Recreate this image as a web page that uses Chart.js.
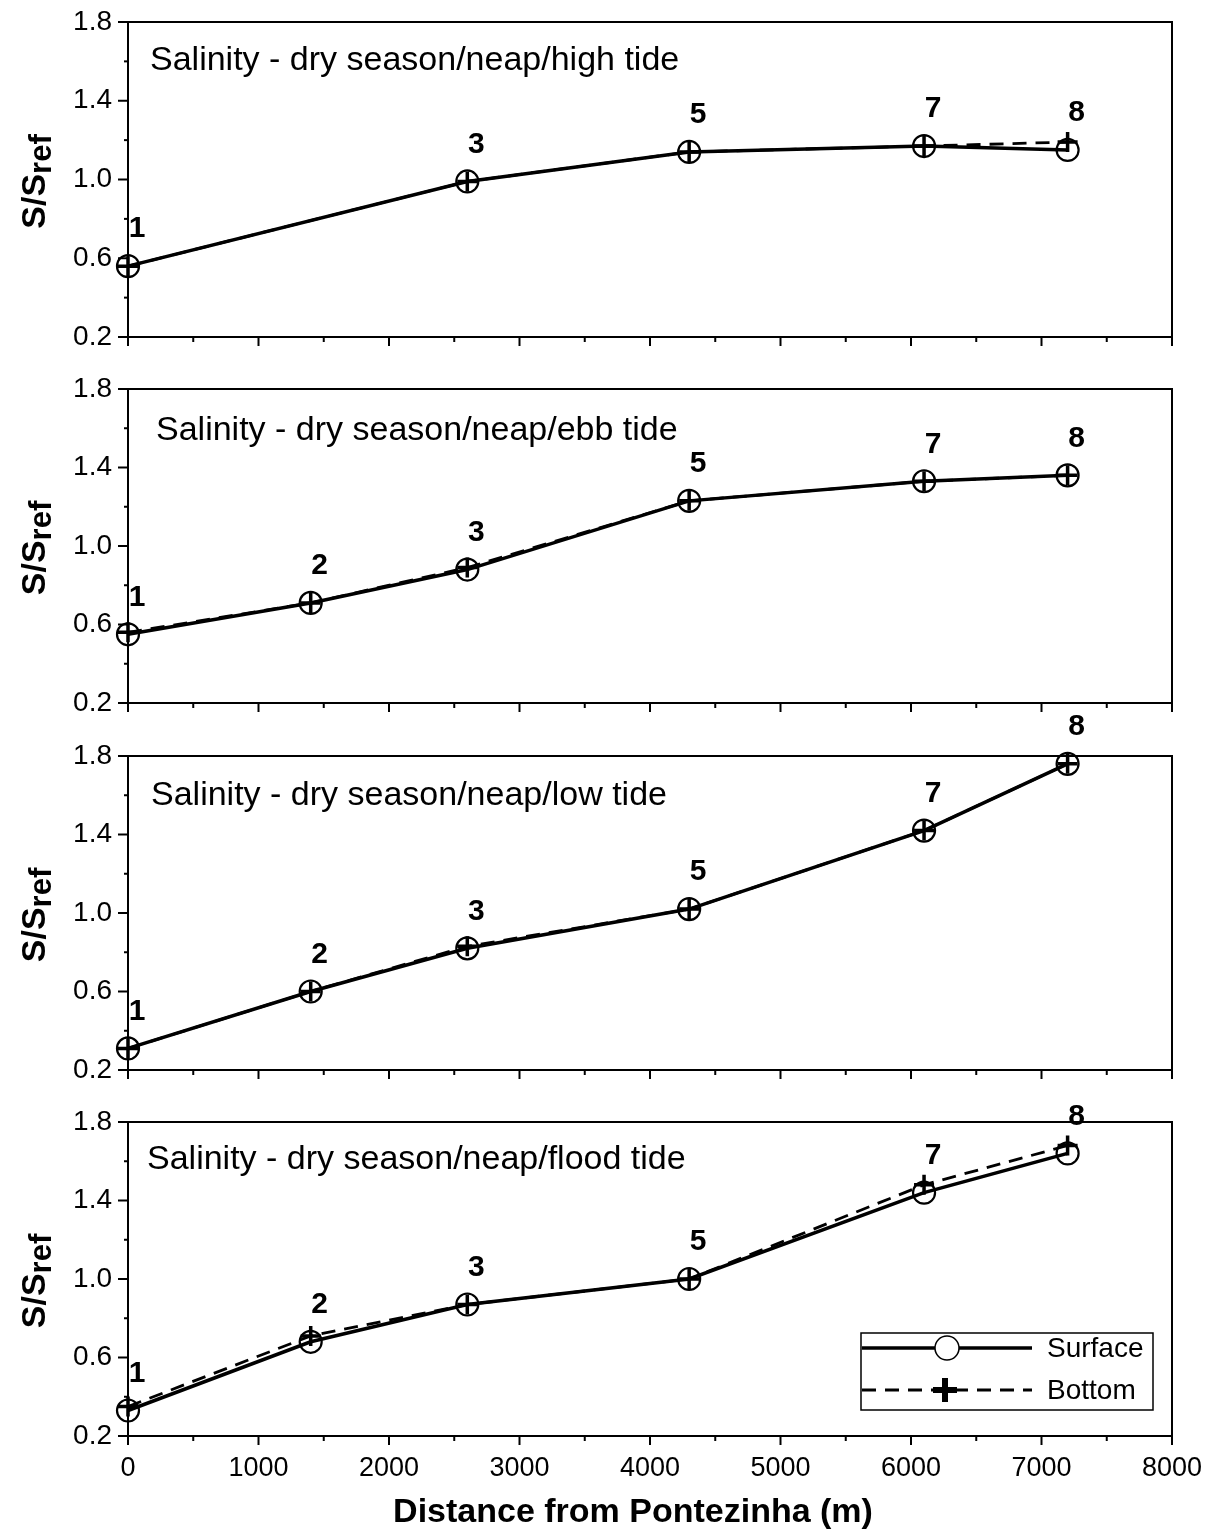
<!DOCTYPE html>
<html>
<head>
<meta charset="utf-8">
<title>Salinity - dry season/neap</title>
<script src="https://cdn.jsdelivr.net/npm/chart.js@4.4.0/dist/chart.umd.min.js"></script>
<style>
  html, body { margin: 0; padding: 0; background: #fff; }
  #wrap { position: relative; width: 1220px; height: 1534px; overflow: hidden; }
  #wrap canvas { position: absolute; left: 0; }
</style>
</head>
<body>
<div id="wrap">
  <canvas id="p1"></canvas>
  <canvas id="p2"></canvas>
  <canvas id="p3"></canvas>
  <canvas id="p4"></canvas>
</div>
<script>
var FONT = '"Liberation Sans", Arial, Helvetica, sans-serif';

// stations and their distance from Pontezinha (m)
var stationNumbers = [1, 2, 3, 5, 7, 8];
var distanceM = [0, 1400, 2600, 4300, 6100, 7200];

// S/Sref per station (null = not sampled)
var highSurface  = [0.56, null, 0.99, 1.14, 1.17, 1.15];
var highBottom   = [0.56, null, 0.99, 1.14, 1.17, 1.19];
var ebbSurface   = [0.55, 0.71, 0.88, 1.23, 1.33, 1.36];
var ebbBottom    = [0.56, 0.71, 0.89, 1.23, 1.33, 1.36];
var lowSurface   = [0.31, 0.60, 0.82, 1.02, 1.42, 1.76];
var lowBottom    = [0.31, 0.60, 0.83, 1.02, 1.42, 1.76];
var floodSurface = [0.33, 0.68, 0.87, 1.00, 1.44, 1.64];
var floodBottom  = [0.35, 0.71, 0.87, 1.00, 1.48, 1.68];

var yTickLabels = [0.2, 0.6, 1.0, 1.4, 1.8];
var xTickLabels = [0, 1000, 2000, 3000, 4000, 5000, 6000, 7000, 8000];

var panels = [
  { id: 'p1', title: 'Salinity - dry season/neap/high tide',  surface: highSurface,  bottom: highBottom,
    top: 0,    height: 358, padTop: 22, axisH: 21, titleDx: 22, titleDy: 48 },
  { id: 'p2', title: 'Salinity - dry season/neap/ebb tide',   surface: ebbSurface,   bottom: ebbBottom,
    top: 345,  height: 379, padTop: 44, axisH: 21, titleDx: 28, titleDy: 51 },
  { id: 'p3', title: 'Salinity - dry season/neap/low tide',   surface: lowSurface,   bottom: lowBottom,
    top: 700,  height: 391, padTop: 56, axisH: 21, titleDx: 23, titleDy: 49 },
  { id: 'p4', title: 'Salinity - dry season/neap/flood tide', surface: floodSurface, bottom: floodBottom,
    top: 1080, height: 454, padTop: 42, axisH: 98, titleDx: 19, titleDy: 47, last: true }
];

function toPoints(values) {
  var pts = [];
  distanceM.forEach(function (d, i) {
    if (values[i] !== null) pts.push({ x: d, y: values[i] });
  });
  return pts;
}

function line(ctx, x1, y1, x2, y2) {
  ctx.beginPath(); ctx.moveTo(x1, y1); ctx.lineTo(x2, y2); ctx.stroke();
}

function makePanel(p) {
  var canvas = document.getElementById(p.id);
  canvas.width = 1220;
  canvas.height = p.height;
  canvas.style.top = p.top + 'px';

  var decor = {
    id: 'decor',
    afterDraw: function (chart) {
      var ctx = chart.ctx, a = chart.chartArea;
      var xs = chart.scales.x, ys = chart.scales.y;
      ctx.save();
      ctx.strokeStyle = '#000';
      ctx.lineWidth = 2;
      // frame top / right
      ctx.beginPath();
      ctx.moveTo(a.left, a.top); ctx.lineTo(a.right, a.top); ctx.lineTo(a.right, a.bottom);
      ctx.stroke();
      // tick marks
      ys.ticks.forEach(function (t, i) {
        var py = ys.getPixelForValue(t.value);
        line(ctx, a.left - (i % 2 === 0 ? 10 : 4), py, a.left, py);
      });
      xs.ticks.forEach(function (t) {
        var px = xs.getPixelForValue(t.value);
        line(ctx, px, a.bottom, px, a.bottom + (t.value % 1000 === 0 ? 9 : 5));
      });

      ctx.fillStyle = '#000';
      // panel title
      ctx.font = '34px ' + FONT;
      ctx.textAlign = 'left';
      ctx.textBaseline = 'alphabetic';
      ctx.fillText(p.title, a.left + p.titleDx, a.top + p.titleDy);

      // station numbers
      ctx.font = 'bold 30px ' + FONT;
      ctx.textAlign = 'center';
      ctx.textBaseline = 'middle';
      distanceM.forEach(function (d, i) {
        if (p.surface[i] === null) return;
        ctx.fillText(String(stationNumbers[i]),
          xs.getPixelForValue(d) + 9, ys.getPixelForValue(p.surface[i]) - 37);
      });

      // x title (bottom panel only)
      if (p.last) {
        ctx.font = 'bold 34px ' + FONT;
        ctx.textAlign = 'center';
        ctx.textBaseline = 'middle';
        ctx.fillText('Distance from Pontezinha (m)', 633, a.bottom + 77);
      }

      // y title S/Sref
      var cy = (a.top + a.bottom) / 2 + 2;
      ctx.translate(45, cy);
      ctx.rotate(-Math.PI / 2);
      ctx.textAlign = 'left';
      ctx.textBaseline = 'alphabetic';
      ctx.font = 'bold 34px ' + FONT;
      var w1 = ctx.measureText('S/S').width;
      ctx.font = 'bold 31px ' + FONT;
      var w2 = ctx.measureText('ref').width;
      var sx = -(w1 + w2) / 2;
      ctx.font = 'bold 34px ' + FONT;
      ctx.fillText('S/S', sx, 0);
      ctx.font = 'bold 31px ' + FONT;
      ctx.fillText('ref', sx + w1, 6);
      ctx.restore();

      if (p.last) drawLegend(chart);
    }
  };

  function drawLegend(chart) {
    var ctx = chart.ctx, a = chart.chartArea;
    var ds = chart.data.datasets;
    var w = 292, h = 77;
    var x0 = a.right - 19 - w, y0 = a.bottom - 26 - h;
    ctx.save();
    ctx.fillStyle = '#fff';
    ctx.fillRect(x0, y0, w, h);
    ctx.strokeStyle = '#000';
    ctx.lineWidth = 1.5;
    ctx.strokeRect(x0, y0, w, h);
    // surface row
    var r1 = y0 + 15;
    ctx.lineWidth = ds[0].borderWidth;
    line(ctx, x0 + 1, r1, x0 + 171, r1);
    ctx.beginPath();
    ctx.arc(x0 + 86, r1, 12, 0, Math.PI * 2);
    ctx.fillStyle = '#fff';
    ctx.fill();
    ctx.lineWidth = 1.5;
    ctx.stroke();
    // bottom row
    var r2 = y0 + 57;
    ctx.lineWidth = ds[1].borderWidth;
    ctx.setLineDash(ds[1].borderDash);
    line(ctx, x0 + 1, r2, x0 + 171, r2);
    ctx.setLineDash([]);
    ctx.lineWidth = 6;
    line(ctx, x0 + 84 - 12, r2, x0 + 84 + 12, r2);
    line(ctx, x0 + 84, r2 - 12, x0 + 84, r2 + 12);
    ctx.fillStyle = '#000';
    ctx.font = '28px ' + FONT;
    ctx.textAlign = 'left';
    ctx.textBaseline = 'middle';
    ctx.fillText(ds[0].label, x0 + 186, r1 + 1);
    ctx.fillText(ds[1].label, x0 + 186, r2 + 1);
    ctx.restore();
  }

  return new Chart(canvas, {
    type: 'line',
    data: {
      datasets: [{
        label: 'Surface',
        data: toPoints(p.surface),
        borderColor: '#000',
        borderWidth: 3.5,
        pointStyle: 'circle',
        pointRadius: 11,
        pointBorderWidth: 2.2,
        pointBorderColor: '#000',
        pointBackgroundColor: 'rgba(0,0,0,0)',
        tension: 0,
        clip: false
      }, {
        label: 'Bottom',
        data: toPoints(p.bottom),
        borderColor: '#000',
        borderWidth: 2.8,
        borderDash: [14, 9],
        pointStyle: 'cross',
        pointRadius: 10,
        pointBorderWidth: 3.5,
        pointBorderColor: '#000',
        tension: 0,
        clip: false
      }]
    },
    options: {
      responsive: false,
      animation: false,
      devicePixelRatio: 1,
      spanGaps: true,
      layout: { padding: { top: p.padTop, right: 48, left: 0, bottom: 0 } },
      plugins: { legend: { display: false }, tooltip: { enabled: false } },
      scales: {
        x: {
          type: 'linear',
          min: 0, max: 8000,
          grid: { display: true, drawOnChartArea: false, drawTicks: false },
          border: { display: true, color: '#000', width: 2 },
          ticks: {
            stepSize: 500,
            autoSkip: false,
            maxRotation: 0,
            padding: 16,
            color: '#000',
            font: { family: FONT, size: 27 },
            callback: function (v) {
              return (p.last && xTickLabels.indexOf(v) >= 0) ? String(v) : '';
            }
          },
          afterFit: function (s) {
            s.height = p.axisH;
            s.paddingLeft = 0; s.paddingRight = 0;
          }
        },
        y: {
          min: 0.2, max: 1.8,
          grid: { display: true, drawOnChartArea: false, drawTicks: false },
          border: { display: true, color: '#000', width: 2 },
          ticks: {
            stepSize: 0.2,
            autoSkip: false,
            padding: 16,
            color: '#000',
            font: { family: FONT, size: 28 },
            callback: function (v) {
              var hit = yTickLabels.some(function (t) { return Math.abs(t - v) < 1e-6; });
              return hit ? v.toFixed(1) : '';
            }
          },
          afterFit: function (s) {
            s.width = 128;
            s.paddingTop = 0; s.paddingBottom = 0;
          }
        }
      }
    },
    plugins: [decor]
  });
}

panels.forEach(makePanel);
</script>
</body>
</html>
